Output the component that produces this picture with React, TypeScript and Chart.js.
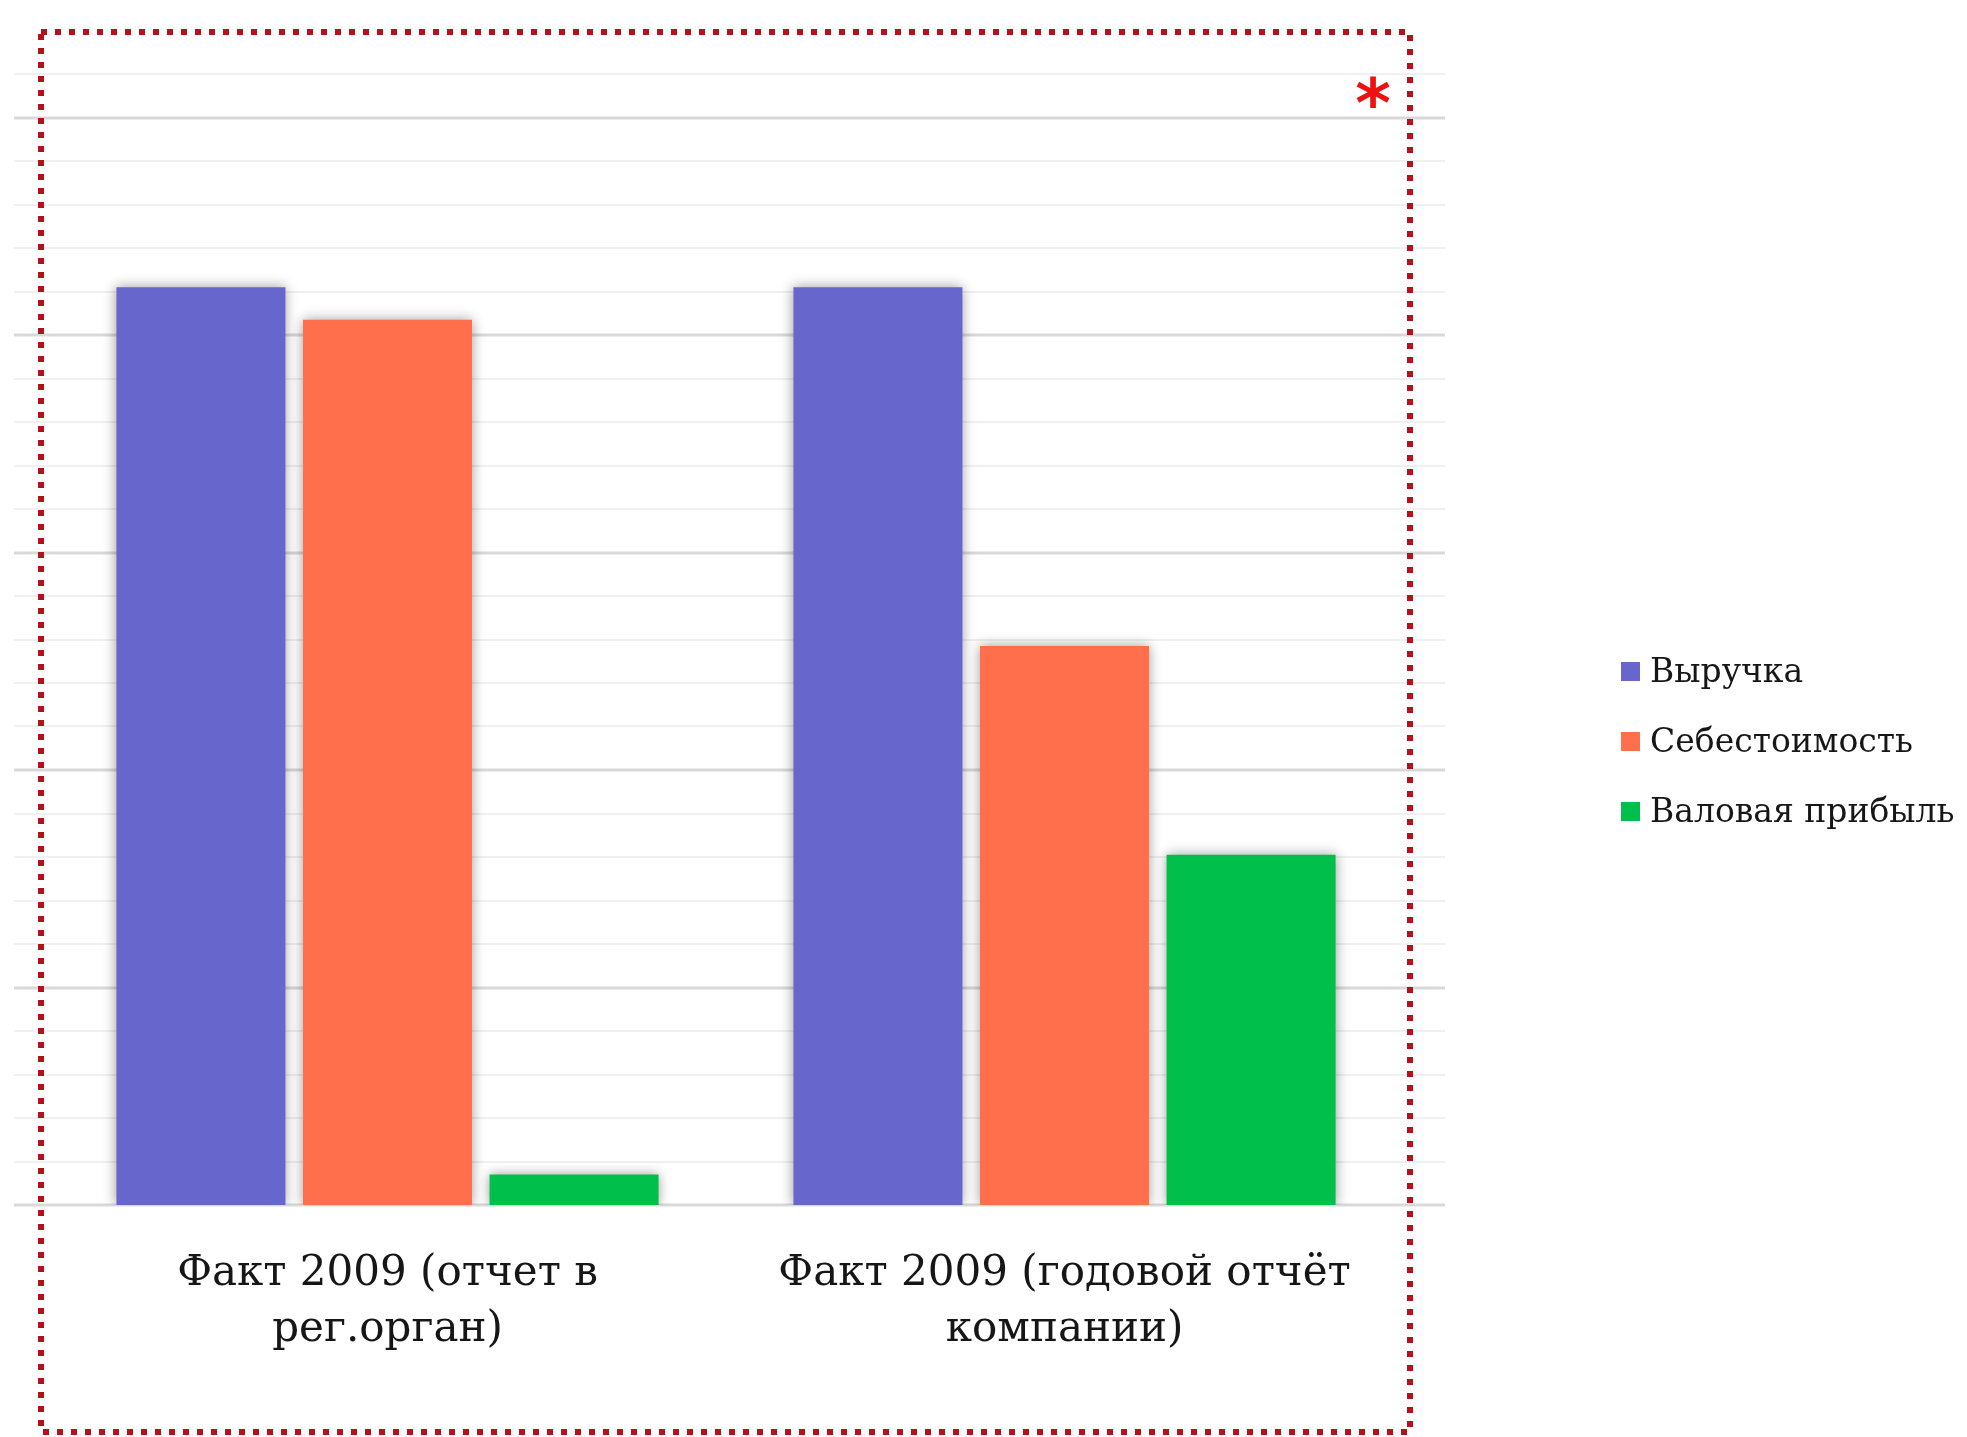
import React, { useEffect, useRef } from "react";
import { Chart, registerables } from "chart.js";

Chart.register(...registerables);

const categories: string[][] = [
  ["Факт 2009 (отчет в", "рег.орган)"],
  ["Факт 2009 (годовой отчёт", "компании)"],
];
const seriesNames = ["Выручка", "Себестоимость", "Валовая прибыль"];
const seriesColors = ["#6666CC", "#FF6F4C", "#00C04B"];
const revenue = [4.22, 4.22];
const cost = [4.07, 2.57];
const grossProfit = [0.14, 1.61];
const yMin = 0;
const yMax = 5.2;
const yStep = 0.2;

const FONT = "'DejaVu Serif', serif";

const gridPlugin = {
  id: "extendedGrid",
  beforeDatasetsDraw(chart: any) {
    const y = chart.scales.y;
    const ctx = chart.ctx;
    ctx.save();
    for (const t of y.ticks) {
      const v = t.value;
      const major = Math.abs(v - Math.round(v)) < 1e-6;
      const py = Math.round(y.getPixelForValue(v));
      ctx.strokeStyle = major ? "#d9d9d9" : "#f0f0f0";
      ctx.lineWidth = major ? 3 : 2;
      ctx.beginPath();
      ctx.moveTo(14, py);
      ctx.lineTo(1445, py);
      ctx.stroke();
    }
    ctx.restore();
  },
};

const shadowPlugin = {
  id: "barShadow",
  beforeDatasetsDraw(chart: any) {
    const ctx = chart.ctx;
    ctx.save();
    ctx.shadowColor = "rgba(0,0,0,0.4)";
    ctx.shadowBlur = 12;
    ctx.shadowOffsetX = 0;
    ctx.shadowOffsetY = 0;
  },
  afterDatasetsDraw(chart: any) {
    chart.ctx.restore();
  },
};

const framePlugin = {
  id: "frame",
  afterDraw(chart: any) {
    const ctx = chart.ctx;
    ctx.save();
    ctx.strokeStyle = "#b3121b";
    ctx.lineWidth = 6;
    ctx.lineCap = "butt";
    ctx.setLineDash([6, 8]);
    ctx.strokeRect(41, 32, 1369, 1400);
    ctx.setLineDash([]);
    ctx.fillStyle = "#ee1111";
    ctx.font = "bold 68px 'DejaVu Sans', sans-serif";
    ctx.textAlign = "center";
    ctx.textBaseline = "alphabetic";
    const m = ctx.measureText("*");
    const asc = m.actualBoundingBoxAscent;
    const desc = m.actualBoundingBoxDescent;
    ctx.fillText("*", 1373, 92 + (asc - desc) / 2);
    ctx.restore();
  },
};

export default function App() {
  const ref = useRef<HTMLCanvasElement>(null);

  useEffect(() => {
    if (!ref.current) return;
    const chart = new Chart(ref.current, {
      type: "bar",
      data: {
        labels: categories,
        datasets: [
          { label: seriesNames[0], data: revenue, backgroundColor: seriesColors[0] },
          { label: seriesNames[1], data: cost, backgroundColor: seriesColors[1] },
          { label: seriesNames[2], data: grossProfit, backgroundColor: seriesColors[2] },
        ],
      },
      options: {
        responsive: false,
        animation: false,
        devicePixelRatio: 1,
        layout: { padding: { left: 49, right: 564, top: 74, bottom: 0 } },
        datasets: {
          bar: { categoryPercentage: 0.8267, barPercentage: 0.906 },
        },
        plugins: {
          legend: { display: false },
          tooltip: { enabled: false },
        },
        scales: {
          x: {
            grid: { display: false },
            border: { display: false },
            afterFit: (scale: any) => {
              scale.height = 232;
            },
            ticks: {
              color: "#161616",
              padding: 33,
              font: { family: FONT, size: 42, lineHeight: 1.333 },
            },
          },
          y: {
            min: yMin,
            max: yMax,
            grid: { display: false },
            border: { display: false },
            afterFit: (scale: any) => {
              scale.width = 0;
            },
            ticks: { display: false, stepSize: yStep },
          },
        },
      },
      plugins: [gridPlugin, shadowPlugin, framePlugin],
    });
    return () => chart.destroy();
  }, []);

  return (
    <div style={{ position: "absolute", left: 0, top: 0, width: 1967, height: 1437, background: "#fff" }}>
      <canvas ref={ref} width={1967} height={1437} style={{ position: "absolute", left: 0, top: 0 }} />
      {seriesNames.map((name, i) => (
        <div
          key={name}
          style={{
            position: "absolute",
            left: 1621,
            top: 655 + i * 70,
            height: 32,
            display: "flex",
            alignItems: "center",
            fontFamily: FONT,
            fontSize: 33,
            lineHeight: "32px",
            color: "#161616",
            whiteSpace: "nowrap",
          }}
        >
          <span style={{ display: "inline-block", width: 19, height: 19, background: seriesColors[i], marginRight: 10 }} />
          <span>{name}</span>
        </div>
      ))}
    </div>
  );
}
